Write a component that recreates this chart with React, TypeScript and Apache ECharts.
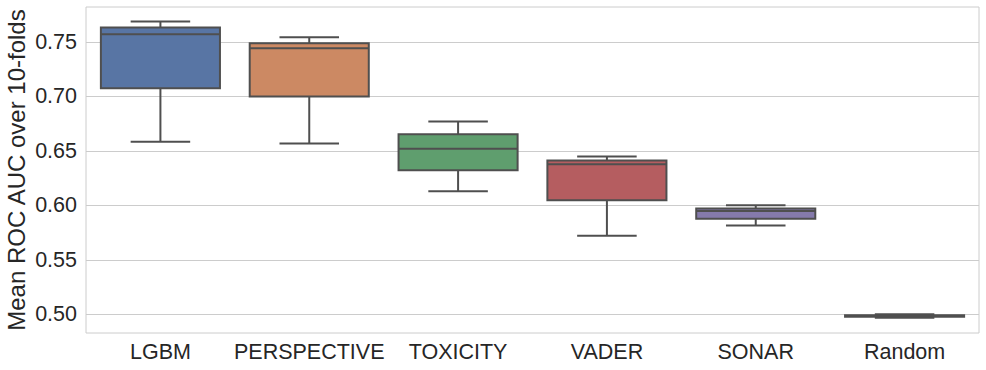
import React, { useEffect, useRef } from "react";
import * as echarts from "echarts";

const categories = ["LGBM", "PERSPECTIVE", "TOXICITY", "VADER", "SONAR", "Random"];
const mins = [0.6585, 0.6567, 0.613, 0.5723, 0.5817, 0.4971];
const q1s = [0.7074, 0.6998, 0.6322, 0.6047, 0.5879, 0.4979];
const medians = [0.757, 0.7441, 0.6521, 0.6377, 0.595, 0.4986];
const q3s = [0.7631, 0.7487, 0.6652, 0.6411, 0.5971, 0.4993];
const maxs = [0.7686, 0.7542, 0.6769, 0.6448, 0.6001, 0.5002];
const yTicks = [0.5, 0.55, 0.6, 0.65, 0.7, 0.75];

const boxColors = ["#5875a4", "#cc8963", "#5f9e6e", "#b55d60", "#857aab", "#8d7866"];
const lineColor = "#4f4f4f";
const textColor = "#262626";
const fontFamily = "'Liberation Sans', Arial, Helvetica, sans-serif";

export default function App() {
  const ref = useRef<HTMLDivElement>(null);

  useEffect(() => {
    if (!ref.current) return;
    const chart = echarts.init(ref.current, undefined, { renderer: "svg" });
    const data = categories.map((_, i) => [i, mins[i], q1s[i], medians[i], q3s[i], maxs[i]]);

    const renderItem = (params: any, api: any) => {
      const x = api.value(0);
      const pMin = api.coord([x, api.value(1)]);
      const pQ1 = api.coord([x, api.value(2)]);
      const pMed = api.coord([x, api.value(3)]);
      const pQ3 = api.coord([x, api.value(4)]);
      const pMax = api.coord([x, api.value(5)]);
      const band = api.size([1, 0])[0];
      const half = band * 0.4;
      const capHalf = band * 0.2;
      const cx = pMin[0];
      const ls = { stroke: lineColor, lineWidth: 2 };
      return {
        type: "group",
        children: [
          { type: "line", shape: { x1: cx, y1: pMax[1], x2: cx, y2: pQ3[1] }, style: ls },
          { type: "line", shape: { x1: cx, y1: pMin[1], x2: cx, y2: pQ1[1] }, style: ls },
          { type: "line", shape: { x1: cx - capHalf, y1: pMax[1], x2: cx + capHalf, y2: pMax[1] }, style: ls },
          { type: "line", shape: { x1: cx - capHalf, y1: pMin[1], x2: cx + capHalf, y2: pMin[1] }, style: ls },
          {
            type: "rect",
            shape: { x: cx - half, y: pQ3[1], width: half * 2, height: Math.max(pQ1[1] - pQ3[1], 0.5) },
            style: { fill: boxColors[params.dataIndex], stroke: lineColor, lineWidth: 2 },
          },
          { type: "line", shape: { x1: cx - half, y1: pMed[1], x2: cx + half, y2: pMed[1] }, style: ls },
        ],
      };
    };

    chart.setOption({
      animation: false,
      backgroundColor: "#ffffff",
      grid: {
        left: 86,
        top: 7,
        width: 893,
        height: 326,
        show: true,
        borderColor: "#cccccc",
        borderWidth: 1,
        backgroundColor: "transparent",
        containLabel: false,
        outerBoundsMode: "none",
      },
      xAxis: {
        type: "category",
        data: categories,
        boundaryGap: true,
        axisLine: { show: false },
        axisTick: { show: false },
        splitLine: { show: false },
        axisLabel: { color: textColor, fontSize: 21.5, fontFamily, margin: 8, interval: 0 },
      },
      yAxis: {
        type: "value",
        min: 0.483,
        max: 0.782,
        name: "Mean ROC AUC over 10-folds",
        nameLocation: "middle",
        nameRotate: 90,
        nameGap: 58,
        nameMoveOverlap: false,
        nameTextStyle: { color: textColor, fontSize: 24, fontFamily },
        axisLine: { show: false },
        axisTick: { show: false, customValues: yTicks },
        splitLine: { show: true, lineStyle: { color: "#cccccc", width: 1 } },
        axisLabel: {
          color: textColor,
          fontSize: 21.5,
          fontFamily,
          margin: 9,
          customValues: yTicks,
          formatter: (v: number) => v.toFixed(2),
        },
      },
      series: [
        {
          type: "custom",
          renderItem,
          data,
          encode: { x: 0, y: [1, 2, 3, 4, 5] },
          clip: false,
        },
      ],
    });

    return () => chart.dispose();
  }, []);

  return (
    <div
      ref={ref}
      style={{ position: "fixed", left: 0, top: 0, width: 986, height: 370, background: "#fff" }}
    />
  );
}
